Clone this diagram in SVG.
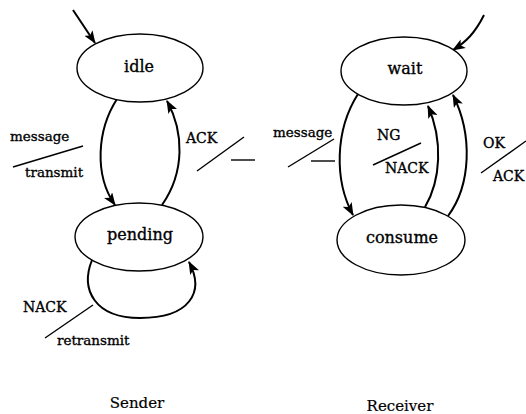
<svg xmlns="http://www.w3.org/2000/svg" width="526" height="414" viewBox="0 0 526 414">
<style>
.node{fill:#fff;stroke:#000;stroke-width:1.4}
.t{font-family:"DejaVu Serif","Liberation Serif",serif;fill:#000;stroke:#000;stroke-width:0.35}
.n{font-size:16px;text-anchor:middle}
.c{font-size:14px}
.l{font-size:13.5px}
.h{font-size:15px;text-anchor:middle;stroke-width:0.2}
.arc{fill:none;stroke:#000;stroke-width:2}
.sl{fill:none;stroke:#000;stroke-width:1.4}
</style>
<defs>
<marker id="ah" markerUnits="userSpaceOnUse" markerWidth="14" markerHeight="10" refX="12" refY="5" orient="auto">
<path d="M0,0 L13,5 L0,10 L3,5 z" fill="#000"/>
</marker>
</defs>
<rect width="526" height="414" fill="#fff"/>
<g id="connectors">
<path class="arc" d="M73,10 L95,43" marker-end="url(#ah)"/>
<path class="arc" d="M117,99 C 97,130 94,175 115,205" marker-end="url(#ah)"/>
<path class="arc" d="M162,205 C 185,172 184,132 167,101" marker-end="url(#ah)"/>
<path class="arc" d="M92,260 C 80,290 95,318 140,318 C 190,318 205,292 189,262" marker-end="url(#ah)"/>
<path class="arc" d="M484,15 C 475,33 466,42 453,50" marker-end="url(#ah)"/>
<path class="arc" d="M358,94 C 335,130 334,180 353,215" marker-end="url(#ah)"/>
<path class="arc" d="M425,207 C 441,180 443,140 428,106" marker-end="url(#ah)"/>
<path class="arc" d="M448,216 C 471,185 473,135 453,95" marker-end="url(#ah)"/>
</g>
<g id="labels">
<line class="sl" x1="13" y1="167" x2="83" y2="146"/>
<text class="t l" x="10" y="141">message</text>
<text class="t l" x="25" y="177">transmit</text>
<line class="sl" x1="197" y1="171" x2="244" y2="137"/>
<line class="sl" x1="231" y1="160" x2="255" y2="160"/>
<text class="t c" x="186" y="143">ACK</text>
<line class="sl" x1="45" y1="338" x2="93" y2="305"/>
<text class="t c" x="23" y="312">NACK</text>
<text class="t l" x="57" y="345">retransmit</text>
<line class="sl" x1="288" y1="167" x2="334" y2="139"/>
<line class="sl" x1="311" y1="161" x2="335" y2="161"/>
<text class="t l" x="273" y="137">message</text>
<line class="sl" x1="373" y1="165" x2="421" y2="143"/>
<text class="t c" x="377" y="140">NG</text>
<text class="t c" x="385" y="173">NACK</text>
<line class="sl" x1="481" y1="173" x2="526" y2="141"/>
<text class="t c" x="483" y="148">OK</text>
<text class="t c" x="493" y="181">ACK</text>
</g>
<g id="idle"><ellipse class="node" cx="140" cy="68" rx="63" ry="34"/><text class="t n" x="139" y="72">idle</text></g>
<g id="pending"><ellipse class="node" cx="139" cy="237" rx="64" ry="34"/><text class="t n" x="140" y="240">pending</text></g>
<g id="wait"><ellipse class="node" cx="404" cy="71" rx="63" ry="34"/><text class="t n" x="405" y="74">wait</text></g>
<g id="consume"><ellipse class="node" cx="401" cy="240" rx="64" ry="35"/><text class="t n" x="402" y="243">consume</text></g>
<g id="captions">
<text class="t h" x="137" y="408">Sender</text>
<text class="t h" x="400" y="411">Receiver</text>
</g>
</svg>
